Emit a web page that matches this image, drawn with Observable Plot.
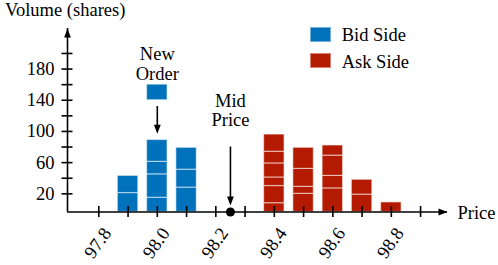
<!DOCTYPE html>
<html><head><meta charset="utf-8">
<script src="https://cdn.jsdelivr.net/npm/d3@7"></script>
<script src="https://cdn.jsdelivr.net/npm/@observablehq/plot@0.6"></script>
<style>
body{margin:0;background:#fff;font-family:'Liberation Serif',serif;}
.lbl{font-family:'Liberation Serif',serif !important;font-size:18.5px;line-height:1;white-space:nowrap;color:#000;position:absolute;}
svg text{font-family:'Liberation Serif',serif !important;}
.sw{position:absolute;width:21px;height:15px;box-sizing:border-box;border:1px solid rgba(255,255,255,0.45);}
</style></head><body>
<div id="wrap" style="position:relative;width:498px;height:265px;">
  <div id="chart"></div>
  <div class="lbl" id="title" style="left:5px;top:0.5px;font-family:'Liberation Serif',serif;">Volume (shares)</div>
  <div id="legend"></div>
</div>
<script>
// ---- data ----
const bidPrices = [97.9, 98.0, 98.1];
const bidOrders = [[21, 22], [15, 30, 16, 28], [28, 23, 28]];
const askPrices = [98.4, 98.5, 98.6, 98.7, 98.8];
const askOrders = [[8, 22, 11, 18, 15, 22], [20, 9, 23, 27], [27, 16, 26, 13], [19, 19], [9]];
const newOrderPrice = 98.0;
const newOrderSize = 20;
const newOrderLevel = 140;
const midPrice = 98.25;
const xTicks = [97.8, 97.9, 98.0, 98.1, 98.2, 98.3, 98.4, 98.5, 98.6, 98.7, 98.8, 98.9];
const xTickLabels = [97.8, 98.0, 98.2, 98.4, 98.6, 98.8];
const yTicks = [20, 40, 60, 80, 100, 120, 140, 160, 180, 200];
const yTickLabels = [20, 60, 100, 140, 180];
const seriesNames = ["Bid Side", "Ask Side"];

// ---- scales / styles ----
const xMin = 97.693, xMax = 98.992;
const yFloor = -3.3, yMax = 232;
const blue = "#0072BC", red = "#B41A00";
const half = 0.035;
const fs = 18.5;
const fam = "'Liberation Serif', serif";

function segments(prices, orders) {
  const out = [];
  prices.forEach((p, i) => {
    let c = 0;
    orders[i].forEach((s, j) => {
      out.push({price: p, y1: j === 0 ? yFloor : c, y2: c + s});
      c += s;
    });
  });
  return out;
}
const bidSegs = segments(bidPrices, bidOrders);
const askSegs = segments(askPrices, askOrders);
const newOrderSeg = [{price: newOrderPrice, y1: newOrderLevel, y2: newOrderLevel + newOrderSize}];
const newOrderTop = d3.sum(bidOrders[bidPrices.indexOf(newOrderPrice)]);

const L = 9, W = 3.4;
const arrowUp = {draw(c) { c.moveTo(0, 0); c.lineTo(W, L); c.lineTo(-W, L); c.closePath(); }};
const arrowDown = {draw(c) { c.moveTo(0, 0); c.lineTo(W, -L); c.lineTo(-W, -L); c.closePath(); }};
const arrowRight = {draw(c) { c.moveTo(0, 0); c.lineTo(-L, W); c.lineTo(-L, -W); c.closePath(); }};

const barStyle = {stroke: "white", strokeOpacity: 0.5, strokeWidth: 1.2};
const ax = {stroke: "black", strokeWidth: 1.6};
const txt = {fontSize: fs, fontFamily: fam, fill: "black"};

const chart = Plot.plot({
  width: 498, height: 265,
  marginLeft: 67, marginRight: 51, marginTop: 28, marginBottom: 53.5,
  x: {domain: [xMin, xMax], axis: null},
  y: {domain: [yFloor, yMax], axis: null},
  style: {fontFamily: fam, fontSize: fs + "px", color: "black", background: "white"},
  marks: [
    Plot.rect(bidSegs, {x1: d => d.price - half, x2: d => d.price + half, y1: "y1", y2: "y2", fill: blue, ...barStyle}),
    Plot.rect(askSegs, {x1: d => d.price - half, x2: d => d.price + half, y1: "y1", y2: "y2", fill: red, ...barStyle}),
    Plot.rect(newOrderSeg, {x1: d => d.price - half, x2: d => d.price + half, y1: "y1", y2: "y2", fill: blue, ...barStyle}),
    Plot.ruleY([yFloor], {...ax}),
    Plot.ruleX([xMin], {...ax}),
    Plot.ruleX(xTicks, {x: d => d, y1: yFloor, y2: yFloor, insetTop: -5.5, insetBottom: -5.5, ...ax}),
    Plot.ruleY(yTicks, {y: d => d, x1: xMin, x2: xMin, insetLeft: -5.5, insetRight: -5.5, ...ax}),
    Plot.dot([0], {x: xMin, y: yMax, symbol: arrowUp, fill: "black", stroke: "none"}),
    Plot.dot([0], {x: xMax, y: yFloor, symbol: arrowRight, fill: "black", stroke: "none"}),
    Plot.text(yTickLabels, {x: xMin, y: d => d, text: d => String(d), textAnchor: "end", dx: -13, lineAnchor: "middle", ...txt}),
    Plot.text(xTickLabels, {x: d => d, y: yFloor, text: d => d.toFixed(1), rotate: -55, textAnchor: "middle", lineAnchor: "middle", dx: -1, dy: 31, ...txt}),
    Plot.text(["Price"], {x: xMax, y: yFloor, text: d => d, textAnchor: "start", lineAnchor: "bottom", dx: 10, dy: 7, ...txt}),
    Plot.text(["New\nOrder"], {x: newOrderPrice, y: 166.6, text: d => d, lineAnchor: "bottom", lineHeight: 1.07, ...txt}),
    Plot.ruleX([newOrderPrice], {y1: newOrderLevel - 8, y2: newOrderTop + 12, ...ax}),
    Plot.dot([newOrderPrice], {x: d => d, y: newOrderTop + 8, symbol: arrowDown, fill: "black", stroke: "none"}),
    Plot.text(["Mid\nPrice"], {x: midPrice, y: 107.6, text: d => d, lineAnchor: "bottom", lineHeight: 1.0, ...txt}),
    Plot.ruleX([midPrice], {y1: 80, y2: 9, ...ax}),
    Plot.dot([midPrice], {x: d => d, y: 5, symbol: arrowDown, fill: "black", stroke: "none"}),
    Plot.dot([midPrice], {x: d => d, y: yFloor, r: 4.5, fill: "black", stroke: "none"})
  ]
});
chart.querySelectorAll("text, tspan").forEach(t => t.style.setProperty("font-family", fam, "important"));
document.getElementById("chart").appendChild(chart);

const legend = document.getElementById("legend");
[[seriesNames[0], blue, 26.7], [seriesNames[1], red, 53.3]].forEach(([name, col, top]) => {
  const sw = document.createElement("div");
  sw.className = "sw"; sw.style.left = "310px"; sw.style.top = top + "px"; sw.style.background = col;
  legend.appendChild(sw);
  const t = document.createElement("div");
  t.className = "lbl"; t.style.left = "341.7px"; t.style.top = (top - 0.5) + "px"; t.textContent = name;
  t.style.setProperty("font-family", fam, "important");
  legend.appendChild(t);
});
</script>
</body></html>
